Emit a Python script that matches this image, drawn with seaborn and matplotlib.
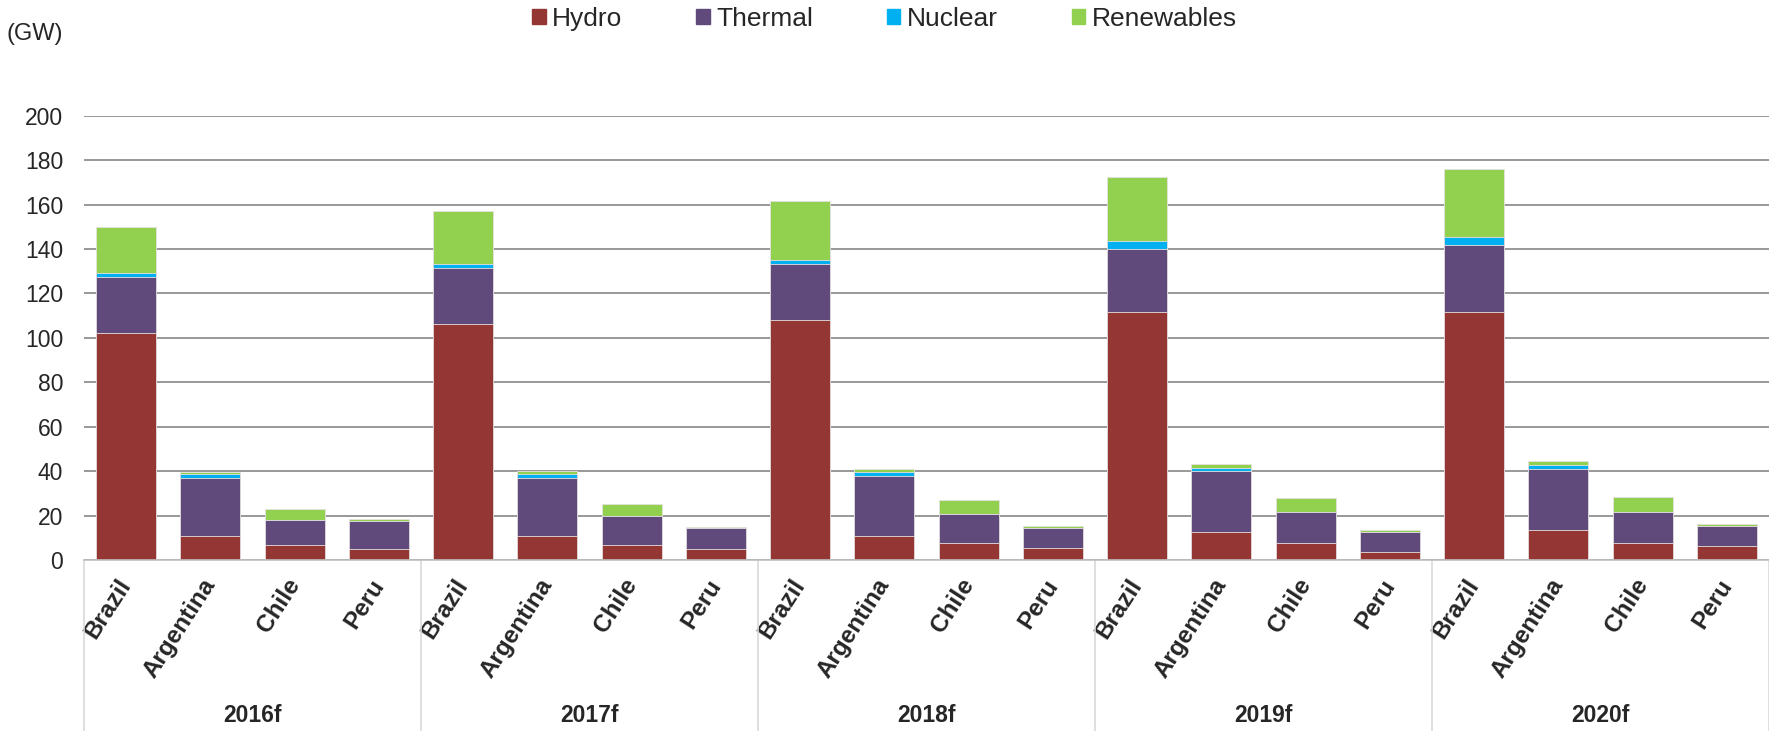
import numpy as np
import pandas as pd
import matplotlib
matplotlib.use("Agg")
import matplotlib.pyplot as plt
import matplotlib.patches as mpatches
import seaborn as sns

years = ['2016f', '2017f', '2018f', '2019f', '2020f']
countries = ['Brazil', 'Argentina', 'Chile', 'Peru']
series = ['Hydro', 'Thermal', 'Nuclear', 'Renewables']
cores = ['#943634', '#604A7B', '#00B0F0', '#92D050']

# GW, ordem: ano -> pais
hydro = [102.0, 10.8, 6.6, 5.1, 106.1, 10.8, 6.6, 5.1, 107.9, 10.8, 7.5, 5.3,
         111.6, 12.5, 7.5, 3.8, 111.6, 13.4, 7.5, 6.3]
thermal = [25.4, 26.3, 11.6, 12.6, 25.5, 26.3, 13.1, 9.5, 25.5, 27.0, 13.4, 9.3,
           28.5, 27.6, 14.1, 9.0, 30.2, 27.7, 14.1, 9.2]
nuclear = [1.8, 1.5, 0, 0, 1.8, 1.6, 0, 0, 1.8, 1.8, 0, 0,
           3.3, 1.5, 0, 0, 3.4, 1.8, 0, 0]
renewables = [20.8, 1.2, 4.8, 0.6, 23.7, 1.4, 5.5, 0.4, 26.5, 1.4, 6.0, 0.7,
              29.0, 1.6, 6.2, 0.7, 30.6, 1.7, 6.8, 0.9]

df = pd.DataFrame({
    'ano': np.repeat(years, len(countries)),
    'pais': countries * len(years),
    'Hydro': hydro, 'Thermal': thermal, 'Nuclear': nuclear, 'Renewables': renewables,
})
df['chave'] = df['ano'] + '|' + df['pais']
ordem = list(df['chave'])

# acumulado para empilhar
acum = df[series].cumsum(axis=1)

sns.set_style("white")
plt.rcParams['font.family'] = ['Liberation Sans', 'DejaVu Sans']

fig = plt.figure(figsize=(17.69, 7.31), dpi=100)
ax = fig.add_axes([84 / 1769, 171 / 731, 1685 / 1769, 444.3 / 731])

# desenha do topo para a base
for s, c in reversed(list(zip(series, cores))):
    sns.barplot(x=df['chave'], y=acum[s], order=ordem, color=c, saturation=1,
                width=0.71, errorbar=None, edgecolor='#e6e0e0', linewidth=0.6, ax=ax)

ax.set_xlim(-0.5, len(ordem) - 0.5)
ax.set_ylim(0, 200)
ax.set_yticks(range(0, 201, 20))
ax.yaxis.grid(True, color='#868686', linewidth=1.2)
ax.set_axisbelow(True)
for lado in ['left', 'right', 'top']:
    ax.spines[lado].set_visible(False)
ax.spines['bottom'].set_color('#BFBFBF')
ax.spines['bottom'].set_linewidth(1.2)
ax.tick_params(axis='y', length=0, pad=15, labelsize=16.5)
ax.tick_params(axis='x', length=0, pad=15)
ax.set_xlabel('')
ax.set_ylabel('')

ax.set_xticks(range(len(ordem)))
ax.set_xticklabels(df['pais'], rotation=57, ha='right', va='center',
                   rotation_mode='anchor', fontsize=17.5, fontweight='bold')

# separadores e rotulos dos anos
trans = ax.get_xaxis_transform()
for i in range(len(years) + 1):
    xs = i * len(countries) - 0.5
    ax.plot([xs, xs], [0, -0.39], transform=trans, color='#D9D9D9',
            linewidth=1.2, clip_on=False)
for i, ano in enumerate(years):
    xc = i * len(countries) + (len(countries) - 1) / 2
    ax.text(xc, -0.35, ano, transform=trans, ha='center', va='center',
            fontsize=16.5, fontweight='bold')

fig.text(6 / 1769, 1 - 34 / 731, '(GW)', ha='left', va='center', fontsize=17)

handles = [mpatches.Patch(color=c, label=s) for s, c in zip(series, cores)]
fig.legend(handles=handles, loc='center', bbox_to_anchor=(0.5, 1 - 19 / 731), ncol=4,
           frameon=False, fontsize=19, handlelength=0.5, handleheight=0.5,
           handletextpad=0.25, columnspacing=2.8)

plt.savefig('out.png', dpi=100)
